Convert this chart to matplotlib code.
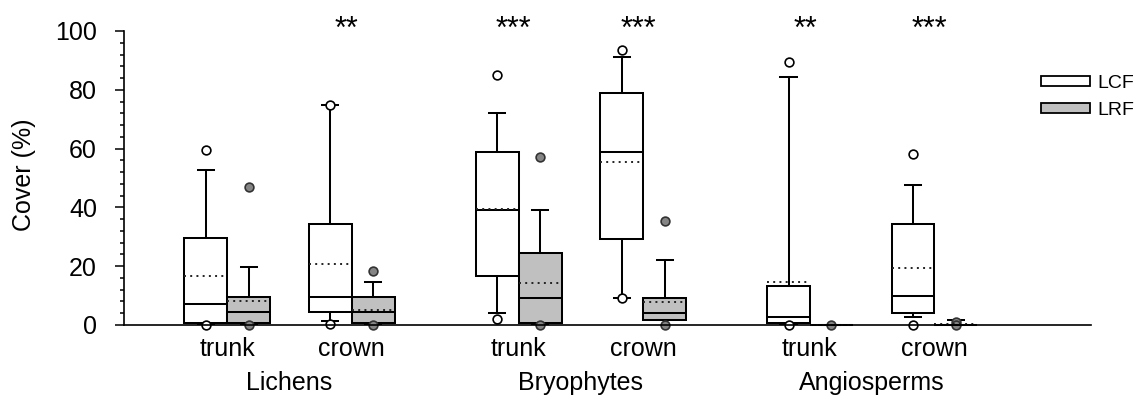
import matplotlib
matplotlib.use('Agg')
import matplotlib.pyplot as plt
from matplotlib.patches import Patch
from matplotlib.ticker import MultipleLocator

plt.rcParams['font.family'] = ['Liberation Sans', 'DejaVu Sans']

groups = ['Lichens', 'Bryophytes', 'Angiosperms']
parts = ['trunk', 'crown']
stars = ['', '**', '***', '***', '**', '***']

# order: Lichens trunk, Lichens crown, Bryophytes trunk, Bryophytes crown, Angiosperms trunk, Angiosperms crown
lcf_q1 = [0.6, 4.3, 16.7, 29.3, 0.8, 4.2]
lcf_med = [7.0, 9.5, 39.2, 58.8, 2.8, 9.7]
lcf_q3 = [29.6, 34.5, 59.0, 79.0, 13.3, 34.3]
lcf_lo = [0.3, 1.2, 4.2, 9.3, 0.5, 2.8]
lcf_hi = [52.8, 75.0, 72.0, 91.0, 84.3, 47.5]
lcf_mean = [16.8, 20.8, 39.5, 55.5, 14.5, 19.3]
lcf_out = [[59.5, 0.0], [75.0, 0.3], [85.0, 2.0], [93.5, 9.3], [89.3, 0.0], [58.3, 0.0]]

lrf_q1 = [0.6, 0.6, 0.6, 1.7, 0.0, 0.0]
lrf_med = [4.3, 4.3, 9.3, 4.0, 0.0, 0.0]
lrf_q3 = [9.5, 9.5, 24.5, 9.2, 0.0, 0.0]
lrf_lo = [0.3, 0.3, 0.3, 1.7, 0.0, 0.0]
lrf_hi = [19.6, 14.5, 39.0, 22.0, 0.0, 1.7]
lrf_mean = [8.3, 5.0, 14.2, 7.8, 0.0, 0.3]
lrf_out = [[47.0, 0.0], [18.4, 0.0], [57.0, 0.0], [35.5, 0.0], [0.0], [1.0, 0.0]]


def stats(q1, med, q3, lo, hi, mean, out):
    return [dict(q1=a, med=b, q3=c, whislo=d, whishi=e, mean=f, fliers=g)
            for a, b, c, d, e, f, g in zip(q1, med, q3, lo, hi, mean, out)]


# pair centres: trunk/crown 1 apart, groups separated by extra gap
centers = []
for gi in range(len(groups)):
    for pi in range(len(parts)):
        centers.append(0.83 + gi * 2.34 + pi * 1.0)
w = 0.345
off = w / 2

fig = plt.figure(figsize=(11.42, 3.96), dpi=100)
ax = fig.add_axes([124 / 1142, 71 / 396, 967 / 1142, 294 / 396])

lw = 1.45
common = dict(widths=w, showmeans=True, meanline=True, patch_artist=True,
              capwidths=0.13, manage_ticks=False,
              whiskerprops=dict(color='black', lw=lw),
              capprops=dict(color='black', lw=lw),
              medianprops=dict(color='black', lw=lw),
              meanprops=dict(color='#222222', lw=1.4, linestyle=(0, (1, 2.2))))

b1 = ax.bxp(stats(lcf_q1, lcf_med, lcf_q3, lcf_lo, lcf_hi, lcf_mean, lcf_out),
            positions=[c - off for c in centers],
            boxprops=dict(facecolor='white', edgecolor='black', lw=lw),
            flierprops=dict(marker='o', markerfacecolor='white', markeredgecolor='black',
                            markersize=6.3, markeredgewidth=1.2),
            **common)
b2 = ax.bxp(stats(lrf_q1, lrf_med, lrf_q3, lrf_lo, lrf_hi, lrf_mean, lrf_out),
            positions=[c + off for c in centers],
            boxprops=dict(facecolor='#c0c0c0', edgecolor='black', lw=lw),
            flierprops=dict(marker='o', markerfacecolor='#858585', markeredgecolor='#333333',
                            markersize=6.3, markeredgewidth=1.2),
            **common)
for b in (b1, b2):
    for arts in b.values():
        for a in arts:
            a.set_clip_on(False)

ax.set_xlim(0, 967 / 124.5)
ax.set_ylim(0, 100)
ax.yaxis.set_major_locator(MultipleLocator(20))
ax.yaxis.set_minor_locator(MultipleLocator(4))
ax.tick_params(axis='y', which='major', length=6.5, width=1.1, labelsize=18, pad=13)
ax.tick_params(axis='y', which='minor', length=3, width=1.1)
ax.set_xticks([])
for s in ['top', 'right']:
    ax.spines[s].set_visible(False)
ax.spines['left'].set_linewidth(1.2)
ax.spines['bottom'].set_linewidth(1.2)

tr = ax.get_xaxis_transform()
for i, c in enumerate(centers):
    ax.text(c, -0.105, parts[i % 2], transform=tr, ha='center', va='baseline', fontsize=18)
    if stars[i]:
        ax.text(c - 0.04, 1.005, stars[i], transform=tr, ha='center', va='center', fontsize=22)
for gi, g in enumerate(groups):
    gc = (centers[2 * gi] + centers[2 * gi + 1]) / 2
    ax.text(gc, -0.221, g, transform=tr, ha='center', va='baseline', fontsize=18)

ax.text(-0.1035, 0.51, 'Cover (%)', transform=ax.transAxes, rotation=90,
        ha='center', va='center', fontsize=18)

handles = [Patch(facecolor='white', edgecolor='black', lw=1.3),
           Patch(facecolor='#c0c0c0', edgecolor='black', lw=1.3)]
fig.legend(handles, ['LCF', 'LRF'], loc='upper left',
           bbox_to_anchor=(1041 / 1142, 1 - 75 / 396), frameon=False, fontsize=14,
           handlelength=2.5, handleheight=0.42, handletextpad=0.4, labelspacing=0.5,
           borderpad=0, borderaxespad=0)

plt.savefig('out.png', dpi=100)
